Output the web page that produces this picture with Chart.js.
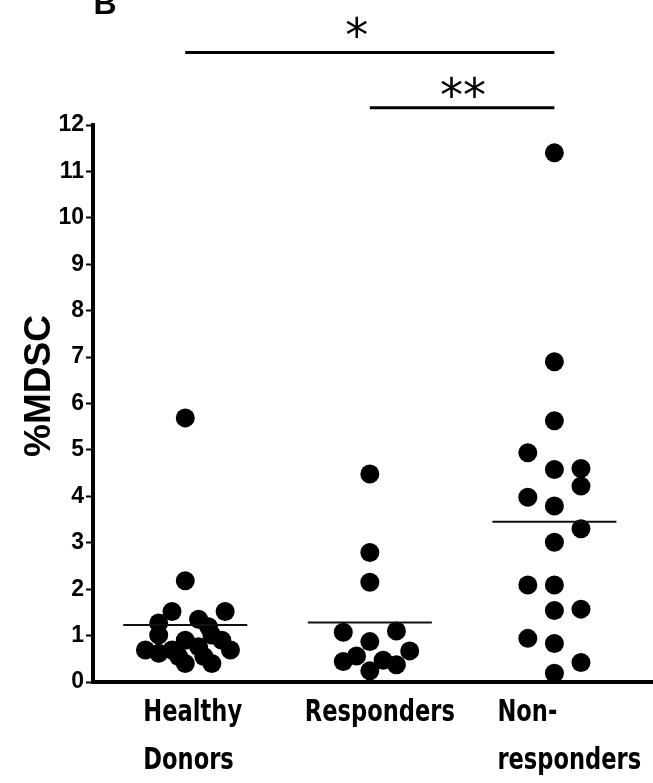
<!DOCTYPE html>
<html>
<head>
<meta charset="utf-8">
<script src="https://cdn.jsdelivr.net/npm/chart.js@4"></script>
<style>
  html, body { margin: 0; padding: 0; background: #fff; overflow: hidden; }
  #wrap { width: 663px; height: 783px; position: relative; }
</style>
</head>
<body>
<div id="wrap"><canvas id="myChart"></canvas></div>
<script>
// groups on the x axis (1, 2, 3)
const categories = [['Healthy', 'Donors'], ['Responders'], ['Non-', 'responders']];

// %MDSC per subject, with its column in the dot cluster (-3 .. +3)
const healthyValues = [5.69, 2.18, 1.52, 1.52, 1.35, 1.27, 1.19, 1.01, 1.01, 0.90, 0.90, 0.69, 0.62, 0.69, 0.76, 0.69, 0.40, 0.40, 0.55, 0.55];
const healthyCols   = [0, 0, -1, 3, 1, -2, 1.75, -2, 2, 0, 2.75, -3, -2, -1, 1, 3.4, 0, 2, -0.5, 1.4];

const respondersValues = [4.48, 2.79, 2.15, 1.07, 1.10, 0.87, 0.67, 0.56, 0.44, 0.47, 0.37, 0.24];
const respondersCols   = [0, 0, 0, -2, 2, 0, 3, -1, -2, 1, 2, 0];

const nonRespondersValues = [11.40, 6.90, 5.63, 4.94, 4.58, 4.60, 4.22, 3.98, 3.79, 3.30, 3.01, 2.09, 2.09, 1.54, 1.57, 0.94, 0.83, 0.42, 0.19];
const nonRespondersCols   = [0, 0, 0, -2, 0, 2, 2, -2, 0, 2, 0, -2, 0, 0, 2, -2, 0, 2, 0];

const groupMeans = [1.23, 1.28, 3.45];

// significance brackets
const sigFrom = [1, 2];
const sigTo = [3, 3];
const sigLevel = [13.56, 12.37];
const sigLabels = ['*', '**'];

const JITTER = 0.072;     // x units per dot column
const MEAN_HALF = 0.336;  // half width of mean bar

function dots(values, cols, g) {
  return values.map((v, i) => ({ x: g + cols[i] * JITTER, y: v }));
}

const labelShift = [-42, -65, -57];
const starShift = [-13, 1];
const starLift = [-2, 3];

const textPlugin = {
  id: 'textPlugin',
  afterDraw(chart) {
    const { ctx, chartArea } = chart;
    const x = chart.scales.x, y = chart.scales.y;
    ctx.save();
    ctx.fillStyle = '#000';
    ctx.textAlign = 'left';
    ctx.textBaseline = 'middle';
    ctx.font = 'bold 31px "DejaVu Sans Condensed", "DejaVu Sans", sans-serif';
    categories.forEach((lines, i) => {
      const px = x.getPixelForValue(i + 1) + labelShift[i];
      lines.forEach((t, j) => {
        ctx.save();
        ctx.translate(px, chartArea.bottom + 31 + j * 48);
        ctx.scale(0.81, 1);
        ctx.fillText(t, 0, 0);
        ctx.restore();
      });
    });

    // y axis title
    ctx.save();
    ctx.translate(40, 386);
    ctx.rotate(-Math.PI / 2);
    ctx.textAlign = 'center';
    ctx.font = 'bold 37px "Liberation Sans", Arial, sans-serif';
    ctx.fillText('%MDSC', 0, 0);
    ctx.restore();

    ctx.textAlign = 'center';
    ctx.textBaseline = 'alphabetic';
    ctx.font = '46px "DejaVu Sans", sans-serif';
    sigLabels.forEach((s, i) => {
      const cx = (x.getPixelForValue(sigFrom[i]) + x.getPixelForValue(sigTo[i])) / 2 + starShift[i];
      ctx.fillText(s, cx, y.getPixelForValue(sigLevel[i]) + starLift[i]);
    });
    ctx.font = 'bold 32px "Liberation Sans", sans-serif';
    ctx.fillText('B', 105, 14);
    ctx.restore();
  }
};

const ctx = document.getElementById('myChart');

const meanSets = groupMeans.map((m, i) => ({
  data: [{ x: i + 1 - MEAN_HALF, y: m }, { x: i + 1 + MEAN_HALF, y: m }],
  showLine: true,
  borderColor: '#111',
  borderWidth: 2,
  pointRadius: 0
}));

const sigSets = sigFrom.map((f, i) => ({
  data: [{ x: f, y: sigLevel[i] }, { x: sigTo[i], y: sigLevel[i] }],
  showLine: true,
  clip: false,
  borderColor: '#000',
  borderWidth: 3,
  pointRadius: 0
}));

const dotStyle = { pointRadius: 9.5, pointBackgroundColor: '#000', pointBorderWidth: 0, showLine: false };

new Chart(ctx, {
  type: 'scatter',
  data: {
    datasets: [
      ...meanSets,
      ...sigSets,
      { data: dots(healthyValues, healthyCols, 1), ...dotStyle },
      { data: dots(respondersValues, respondersCols, 2), ...dotStyle },
      { data: dots(nonRespondersValues, nonRespondersCols, 3), ...dotStyle }
    ]
  },
  options: {
    responsive: true,
    maintainAspectRatio: false,
    animation: false,
    layout: { padding: { top: 125, left: 0, right: 0, bottom: 0 } },
    plugins: { legend: { display: false }, tooltip: { enabled: false } },
    scales: {
      x: {
        type: 'linear',
        min: 0.5,
        max: 3.537,
        ticks: { display: false },
        grid: { display: false },
        border: { color: '#000', width: 4 },
        afterFit: s => { s.height = 101; }
      },
      y: {
        min: 0,
        max: 12,
        ticks: {
          stepSize: 1,
          color: '#000',
          padding: 2,
          font: { family: '"Liberation Sans", Arial, sans-serif', size: 23, weight: 'bold' }
        },
        grid: { drawOnChartArea: false, tickLength: 7, tickWidth: 2, tickColor: '#000' },
        border: { color: '#000', width: 4 },
        afterFit: s => { s.width = 93; }
      }
    }
  },
  plugins: [textPlugin]
});
</script>
</body>
</html>
